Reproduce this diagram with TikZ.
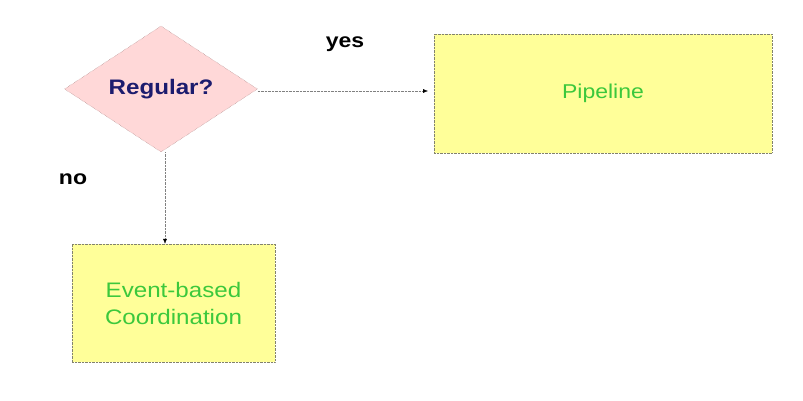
\documentclass[tikz,border=0pt]{standalone}
\usepackage{fontspec}
\setmainfont[FakeStretch=1.15]{Liberation Sans}
\usepackage{xcolor}
\usetikzlibrary{arrows.meta,shapes.geometric}
\definecolor{decfill}{RGB}{255,216,216}
\definecolor{decline}{RGB}{150,110,110}
\definecolor{boxfill}{RGB}{255,255,153}
\definecolor{boxline}{RGB}{130,130,110}
\definecolor{navytext}{RGB}{28,28,110}
\definecolor{greentext}{RGB}{60,200,60}
\tikzset{
  decision/.style={diamond, draw=decline, densely dotted, fill=decfill, inner sep=0pt,
    minimum width=193pt, minimum height=126pt, aspect=1.53,
    font=\fontsize{21}{25}\selectfont\bfseries, text=navytext},
  stage/.style={rectangle, draw=boxline, densely dotted, fill=boxfill, inner sep=0pt,
    font=\fontsize{20}{27}\selectfont, text=greentext, align=center},
  flow/.style={draw=gray, densely dotted, -{Latex[length=5pt,width=4pt,black]}},
  answer/.style={font=\fontsize{20}{24}\selectfont\bfseries}
}
\begin{document}
\begin{tikzpicture}[x=1pt,y=-1pt]
\useasboundingbox (0,0) rectangle (803,401);
% question
\node[decision] (regular) at (161,89) {Regular?};
% outcomes
\node[stage, minimum width=338pt, minimum height=119pt] (pipeline) at (603,93.5) {Pipeline};
\node[stage, minimum width=203pt, minimum height=118pt, font=\fontsize{21}{27}\selectfont] (event) at (173.5,303) {Event-based\\Coordination};
% connectors
\coordinate (yesend) at (428,91);
\draw[flow] (regular.east |- yesend) -- (yesend);
\draw[flow] (regular.south) ++(4,0) coordinate (nostart) -- (nostart |- event.north);
% labels
\node[answer] (yes) at (345,44) {yes};
\node[answer] (no) at (73,179) {no};
\end{tikzpicture}
\end{document}
